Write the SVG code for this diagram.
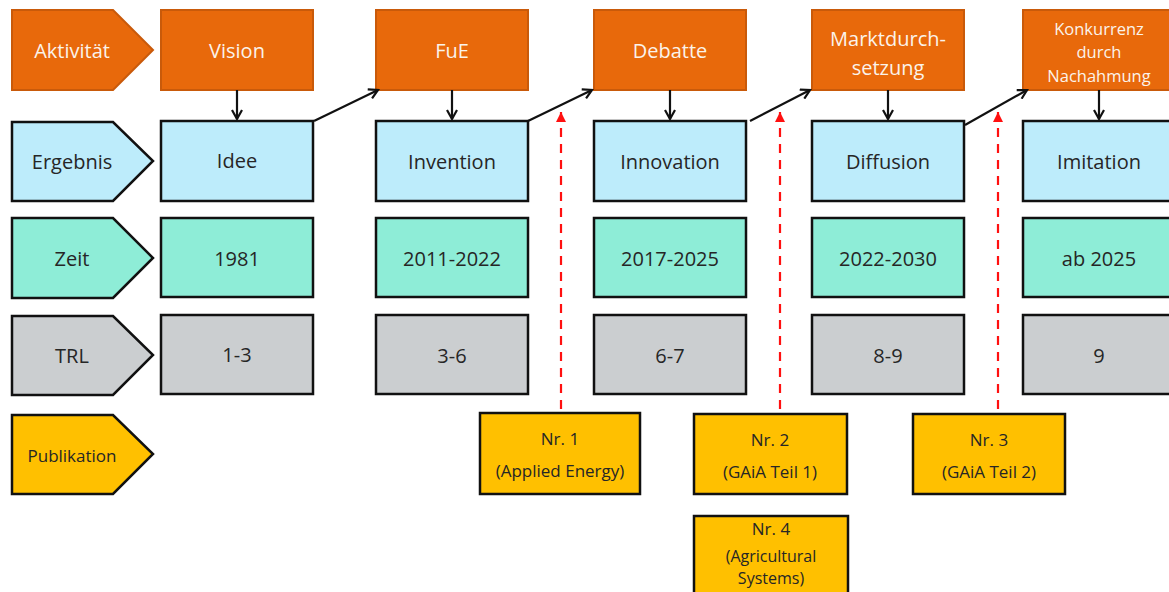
<svg xmlns="http://www.w3.org/2000/svg" width="1169" height="592" viewBox="0 0 1169 592">
<style>
text{font-family:"Open Sans","Liberation Sans",sans-serif;text-anchor:middle;dominant-baseline:central;fill:#262626}
.o{fill:#E8690B;stroke:#C95A0A;stroke-width:2}
.ot{fill:#FBF3EA;font-size:20px}
.ok{fill:#FBF3EA;font-size:16.5px}
.b{fill:#BDECFB;stroke:#111;stroke-width:2.5}
.t{fill:#8EEDD7;stroke:#111;stroke-width:2.5}
.g{fill:#CBCED0;stroke:#111;stroke-width:2.5}
.y{fill:#FFC000;stroke:#111;stroke-width:2.5}
.l{font-size:20px}
.s{font-size:17px}
.ss{font-size:16px}
.c{stroke:#111;stroke-width:2.2;fill:none}
.r{stroke:#FF1010;stroke-width:2.2;fill:none;stroke-dasharray:9 7}
</style>
<defs>
<marker id="ah" markerWidth="12" markerHeight="12" refX="10" refY="6" orient="auto" markerUnits="userSpaceOnUse"><path d="M1,1 L10,6 L1,11" fill="none" stroke="#111" stroke-width="2.2"/></marker>
<marker id="rh" markerWidth="12" markerHeight="12" refX="10" refY="5" orient="auto" markerUnits="userSpaceOnUse"><path d="M0,0 L10,5 L0,10 Z" fill="#FF1010"/></marker>
</defs>
<g id="labels">
<g id="lab-aktivitaet"><path class="o" d="M12,10 H113 L153,50 L113,90 H12 Z"/><text class="ot" x="72" y="50">Aktivität</text></g>
<g id="lab-ergebnis"><path class="b" d="M12,122 H113 L153,161 L113,201 H12 Z"/><text class="l" x="72" y="161">Ergebnis</text></g>
<g id="lab-zeit"><path class="t" d="M12,218 H113 L153,258 L113,298 H12 Z"/><text class="l" x="72" y="258">Zeit</text></g>
<g id="lab-trl"><path class="g" d="M12,316 H113 L153,355 L113,395 H12 Z"/><text class="l" x="72" y="355">TRL</text></g>
<g id="lab-publikation"><path class="y" d="M12,415 H113 L153,454 L113,494 H12 Z"/><text class="s" x="72" y="455">Publikation</text></g>
</g>
<g id="col1">
<g id="vision"><rect class="o" x="161" y="10" width="152" height="80"/><text class="ot" x="237" y="50">Vision</text></g>
<g id="idee"><rect class="b" x="161" y="121" width="152" height="80"/><text class="l" x="237" y="160">Idee</text></g>
<g id="z1981"><rect class="t" x="161" y="218" width="152" height="79"/><text class="l" x="237" y="258">1981</text></g>
<g id="trl13"><rect class="g" x="161" y="315" width="152" height="79"/><text class="l" x="237" y="354">1-3</text></g>
</g>
<g id="col2">
<g id="fue"><rect class="o" x="376" y="10" width="152" height="80"/><text class="ot" x="452" y="50">FuE</text></g>
<g id="invention"><rect class="b" x="376" y="121" width="152" height="80"/><text class="l" x="452" y="161">Invention</text></g>
<g id="z2011"><rect class="t" x="376" y="218" width="152" height="79"/><text class="l" x="452" y="258">2011-2022</text></g>
<g id="trl36"><rect class="g" x="376" y="315" width="152" height="79"/><text class="l" x="452" y="355">3-6</text></g>
</g>
<g id="col3">
<g id="debatte"><rect class="o" x="594" y="10" width="152" height="80"/><text class="ot" x="670" y="50">Debatte</text></g>
<g id="innovation"><rect class="b" x="594" y="121" width="152" height="80"/><text class="l" x="670" y="161">Innovation</text></g>
<g id="z2017"><rect class="t" x="594" y="218" width="152" height="79"/><text class="l" x="670" y="258">2017-2025</text></g>
<g id="trl67"><rect class="g" x="594" y="315" width="152" height="79"/><text class="l" x="670" y="355">6-7</text></g>
</g>
<g id="col4">
<g id="markt"><rect class="o" x="812" y="10" width="152" height="80"/><text class="ot" x="888" y="38">Marktdurch-</text><text class="ot" x="888" y="67">setzung</text></g>
<g id="diffusion"><rect class="b" x="812" y="121" width="152" height="80"/><text class="l" x="888" y="161">Diffusion</text></g>
<g id="z2022"><rect class="t" x="812" y="218" width="152" height="79"/><text class="l" x="888" y="258">2022-2030</text></g>
<g id="trl89"><rect class="g" x="812" y="315" width="152" height="79"/><text class="l" x="888" y="355">8-9</text></g>
</g>
<g id="col5">
<g id="konkurrenz"><rect class="o" x="1023" y="10" width="152" height="80"/><text class="ok" x="1099" y="28">Konkurrenz</text><text class="ok" x="1099" y="51">durch</text><text class="ok" x="1099" y="75">Nachahmung</text></g>
<g id="imitation"><rect class="b" x="1023" y="121" width="152" height="80"/><text class="l" x="1099" y="161">Imitation</text></g>
<g id="z2025"><rect class="t" x="1023" y="218" width="152" height="79"/><text class="l" x="1099" y="258">ab 2025</text></g>
<g id="trl9"><rect class="g" x="1023" y="315" width="152" height="79"/><text class="l" x="1099" y="355">9</text></g>
</g>
<g id="publications">
<g id="nr1"><rect class="y" x="480" y="413" width="160" height="81"/><text class="s" x="560" y="438">Nr. 1</text><text class="s" x="560" y="470">(Applied Energy)</text></g>
<g id="nr2"><rect class="y" x="694" y="414" width="153" height="80"/><text class="s" x="770" y="439">Nr. 2</text><text class="s" x="770" y="471">(GAiA Teil 1)</text></g>
<g id="nr3"><rect class="y" x="913" y="414" width="152" height="80"/><text class="s" x="989" y="439">Nr. 3</text><text class="s" x="989" y="471">(GAiA Teil 2)</text></g>
<g id="nr4"><rect class="y" x="694" y="516" width="154" height="90"/><text class="s" x="771" y="528">Nr. 4</text><text class="ss" x="771" y="556">(Agricultural</text><text class="ss" x="771" y="578">Systems)</text></g>
</g>
<g id="connectors">
<path class="c" d="M237,90 V119" marker-end="url(#ah)"/>
<path class="c" d="M452,90 V119" marker-end="url(#ah)"/>
<path class="c" d="M670,90 V119" marker-end="url(#ah)"/>
<path class="c" d="M888,90 V119" marker-end="url(#ah)"/>
<path class="c" d="M1099,90 V119" marker-end="url(#ah)"/>
<path class="c" d="M314,121 L378,90" marker-end="url(#ah)"/>
<path class="c" d="M528,121 L592,90" marker-end="url(#ah)"/>
<path class="c" d="M750,121 L810,90" marker-end="url(#ah)"/>
<path class="c" d="M965,125 L1027,90" marker-end="url(#ah)"/>
<path class="r" d="M561,409 V112" marker-end="url(#rh)"/>
<path class="r" d="M780,409 V112" marker-end="url(#rh)"/>
<path class="r" d="M998,409 V112" marker-end="url(#rh)"/>
</g>
</svg>
